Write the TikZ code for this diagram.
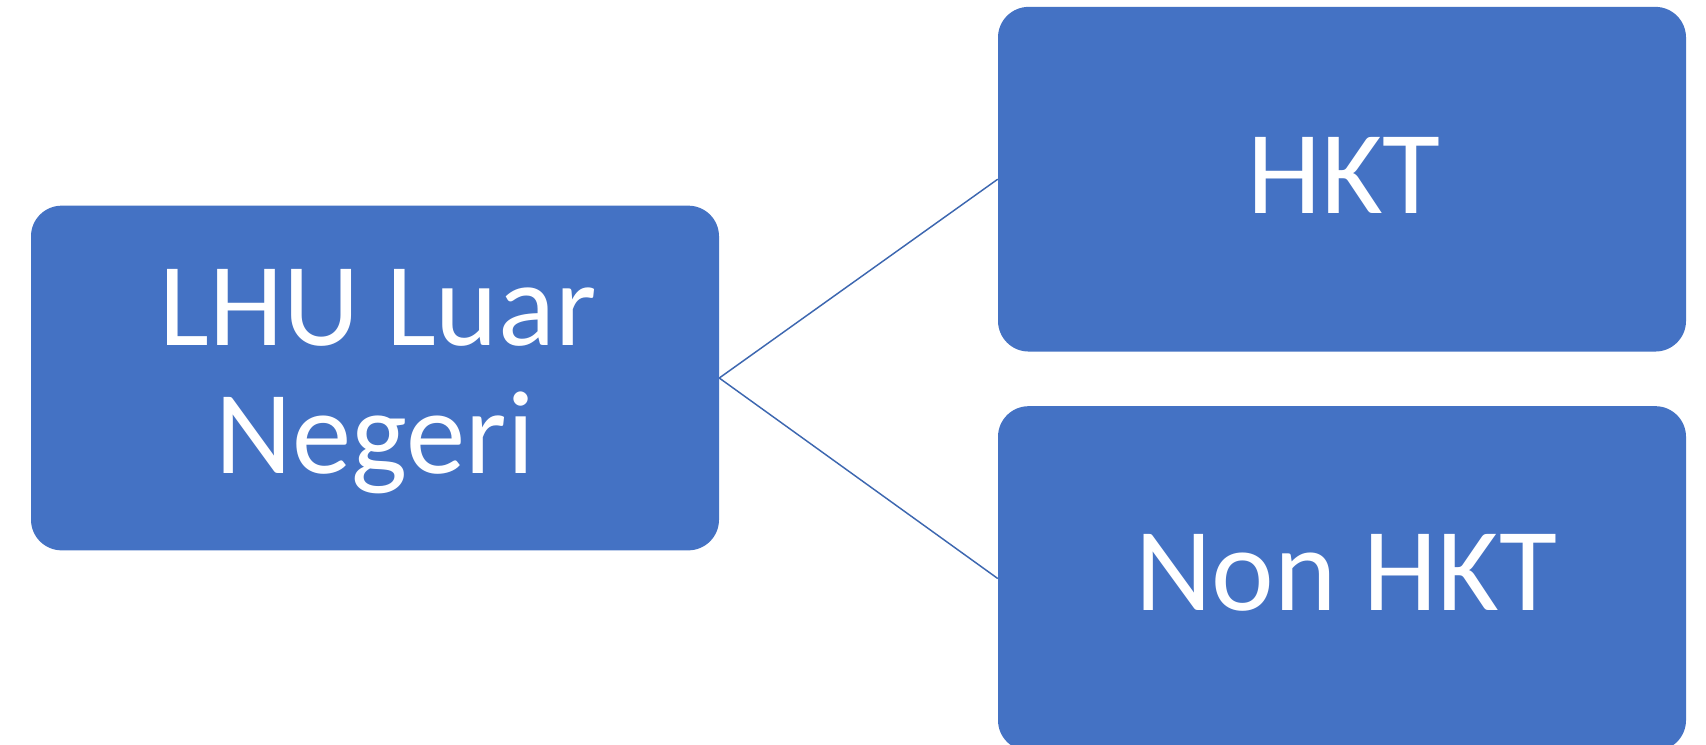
\documentclass[tikz,border=0pt]{standalone}
\usepackage{fontspec}
\setmainfont{Carlito}
\definecolor{boxblue}{HTML}{4472C4}
\begin{document}
\begin{tikzpicture}[x=0.75pt,y=-0.75pt,
  box/.style={rectangle, fill=boxblue, rounded corners=23pt, minimum width=516pt, minimum height=258.5pt, inner sep=0pt},
  lbl/.style={anchor=base, inner sep=0pt, text=white, font=\fontsize{89pt}{96pt}\selectfont},
  link/.style={draw=boxblue!90!black, line width=1.1pt}]
\useasboundingbox (0,0) rectangle (1706,744);
\clip (0,0) rectangle (1706,744);
\fill[white] (0,0) rectangle (1706,744);
\node[box] (L) at (375,378) {};
\node[box] (H) at (1342,179.2) {};
\node[box] (N) at (1342,578.5) {};
\node[lbl] (L1) at (378,345) {LHU Luar};
\node[lbl] (L2) at (375,473) {Negeri};
\node[lbl] (Ht) at (1344,213) {HKT};
\node[lbl] (Nt) at (1346,610.5) {Non HKT};
\draw[link] (L.east) -- (H.west);
\draw[link] (L.east) -- (N.west);
\end{tikzpicture}
\end{document}
